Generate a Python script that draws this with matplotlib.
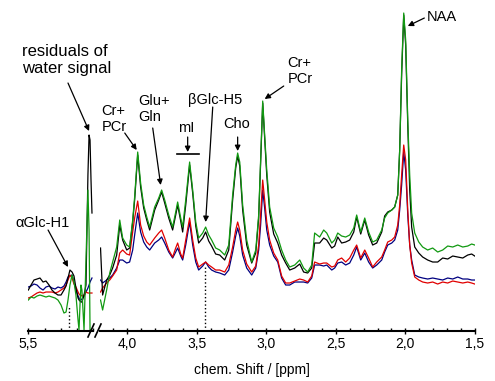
import numpy as np
import matplotlib.pyplot as plt
from matplotlib.lines import Line2D
from matplotlib.ticker import MultipleLocator, FuncFormatter

plt.rcParams['font.family'] = ['Liberation Sans', 'DejaVu Sans']

# left part of the spectrum, 5.5 - 5.1 ppm (intensity in arbitrary units)
ppm_left = [5.500, 5.483, 5.465, 5.446, 5.428, 5.409, 5.391, 5.372, 5.354, 5.335,
            5.317, 5.298, 5.280, 5.267, 5.255, 5.243, 5.230, 5.218, 5.206, 5.193,
            5.187, 5.181, 5.175, 5.169, 5.156, 5.144, 5.132, 5.125, 5.119, 5.113, 5.107]
green_left = [31, 34, 33, 35, 36, 35, 34, 35, 34, 33, 31, 26, 18, 19, 31, 46, 56, 49, 36, 11,
              1, 26, 46, 41, 1, 71, 141, 101, 1, 1, np.nan]
black_left = [41, 46, 51, 52, 53, 49, 50, 46, 41, 38, 36, 36, 41, 45, 53, 61, 59, 55, 43, 33,
              31, 30, 29, 29, 36, 46, 156, 196, 191, 151, 118]
red_left = [33, 34, 36, 38, 39, 38, 39, 39, 39, 38, 39, 41, 43, 46, 51, 56, 53, 47, 44, 39,
            37, 36, 36, 35, 36, 39, 38, 38, 38, 38, 38]
blue_left = [44, 45, 47, 46, 43, 41, 44, 45, 43, 42, 44, 43, 45, 49, 54, 55, 56, 49, 41, 35,
             33, 31, 31, 32, 35, 39, 43, 46, 49, 51, 53]

# right part of the spectrum, 4.2 - 1.5 ppm
ppm_right = [4.190, 4.175, 4.146, 4.124, 4.103, 4.074, 4.052, 4.031, 4.002, 3.981,
             3.959, 3.945, 3.923, 3.902, 3.880, 3.858, 3.837, 3.801, 3.772, 3.751,
             3.729, 3.700, 3.672, 3.650, 3.636, 3.614, 3.600, 3.578, 3.550, 3.528,
             3.506, 3.485, 3.456, 3.435, 3.413, 3.392, 3.363, 3.334, 3.298, 3.269,
             3.241, 3.219, 3.205, 3.190, 3.169, 3.140, 3.104, 3.075, 3.054, 3.040,
             3.025, 3.011, 2.996, 2.975, 2.946, 2.917, 2.889, 2.860, 2.831, 2.795,
             2.759, 2.731, 2.702, 2.673, 2.652, 2.616, 2.587, 2.565, 2.529, 2.508,
             2.486, 2.458, 2.429, 2.400, 2.371, 2.350, 2.321, 2.292, 2.264, 2.235,
             2.206, 2.170, 2.149, 2.127, 2.098, 2.077, 2.055, 2.041, 2.027, 2.012,
             1.998, 1.983, 1.969, 1.955, 1.933, 1.904, 1.876, 1.840, 1.804, 1.768,
             1.732, 1.696, 1.660, 1.624, 1.588, 1.552, 1.524, 1.502]
green_right = [31, 21, 41, 58, 69, 84, 111, 93, 86, 84,
               111, 134, 179, 148, 126, 114, 104, 124, 133, 141,
               131, 116, 104, 119, 129, 113, 104, 131, 169, 141,
               109, 93, 98, 104, 96, 91, 83, 81, 76, 86,
               136, 166, 178, 169, 126, 91, 69, 81, 116, 171,
               230, 196, 161, 124, 103, 94, 81, 71, 64, 66,
               71, 63, 59, 66, 98, 94, 101, 98, 88, 91,
               98, 95, 94, 96, 103, 116, 99, 113, 99, 89,
               91, 101, 113, 118, 121, 124, 136, 181, 261, 318,
               291, 211, 156, 118, 98, 89, 84, 81, 83, 79,
               81, 85, 84, 86, 84, 85, 87, 86]
black_right = [83, 36, 51, 56, 63, 76, 106, 91, 81, 83,
               109, 131, 176, 144, 123, 111, 101, 121, 131, 139,
               128, 113, 101, 116, 126, 110, 99, 126, 166, 138,
               105, 88, 93, 99, 90, 85, 77, 76, 71, 81,
               131, 163, 175, 165, 121, 86, 68, 78, 113, 168,
               228, 193, 156, 119, 97, 88, 76, 68, 61, 63,
               67, 59, 58, 63, 88, 88, 93, 91, 83, 85,
               94, 88, 89, 91, 99, 114, 97, 111, 96, 86,
               88, 99, 115, 119, 121, 124, 136, 181, 256, 316,
               286, 206, 141, 104, 84, 78, 74, 71, 69, 69,
               73, 72, 75, 74, 73, 76, 77, 75]
red_right = [39, 43, 48, 51, 55, 61, 78, 81, 77, 76,
             99, 113, 130, 106, 95, 89, 86, 93, 98, 101,
             93, 81, 74, 83, 88, 77, 73, 91, 113, 91,
             73, 64, 67, 69, 66, 64, 61, 61, 59, 66,
             84, 101, 109, 101, 81, 67, 59, 65, 86, 116,
             151, 131, 109, 91, 78, 71, 55, 48, 48, 50,
             52, 51, 49, 55, 69, 67, 68, 68, 64, 65,
             71, 73, 69, 73, 81, 86, 73, 81, 73, 64,
             69, 74, 81, 89, 91, 94, 106, 126, 156, 186,
             171, 121, 86, 68, 54, 51, 49, 48, 49, 47,
             49, 48, 50, 49, 48, 49, 48, 47]
blue_right = [51, 48, 51, 53, 56, 63, 71, 71, 68, 69,
              81, 96, 118, 99, 89, 84, 81, 88, 91, 94,
              88, 79, 73, 79, 83, 75, 71, 86, 109, 86,
              69, 61, 65, 69, 64, 61, 59, 58, 56, 61,
              79, 95, 103, 95, 76, 63, 56, 63, 81, 106,
              141, 123, 101, 86, 75, 69, 53, 46, 46, 49,
              49, 49, 48, 53, 66, 66, 65, 66, 61, 63,
              68, 69, 66, 68, 76, 84, 71, 78, 69, 63,
              66, 71, 79, 86, 88, 91, 101, 121, 146, 179,
              161, 116, 86, 71, 56, 54, 53, 52, 53, 52,
              51, 53, 52, 54, 52, 52, 51, 51]

ticks_left = [5.5]
ticks_right = [4.0, 3.5, 3.0, 2.5, 2.0, 1.5]

fig = plt.figure(figsize=(4.95, 3.81), dpi=100)
axl = fig.add_axes([0.0572, 0.1312, 0.1309, 0.8556])
axr = fig.add_axes([0.2014, 0.1312, 0.7582, 0.8556])

comma = FuncFormatter(lambda v, p: ('%.1f' % v).replace('.', ','))

parts = [(axl, ppm_left, blue_left, red_left, black_left, green_left, (5.5, 5.1), ticks_left),
         (axr, ppm_right, blue_right, red_right, black_right, green_right, (4.196, 1.5), ticks_right)]
for ax, ppm, b, r, k, g, lim, ticks in parts:
    ax.plot(ppm, b, color='#000080', lw=0.9)
    ax.plot(ppm, r, color='#e00000', lw=0.9)
    ax.plot(ppm, k, color='black', lw=0.9)
    ax.plot(ppm, g, color='#119911', lw=0.9)
    ax.set_xlim(lim)
    ax.set_ylim(0, 326)
    ax.set_xticks(ticks)
    ax.xaxis.set_minor_locator(MultipleLocator(0.1))
    ax.xaxis.set_major_formatter(comma)
    ax.tick_params(axis='x', which='major', direction='inout', length=5, width=1,
                   labelsize=10, pad=2)
    ax.tick_params(axis='x', which='minor', direction='in', length=2.5, width=1)
    ax.set_yticks([])
    for s in ['top', 'left', 'right']:
        ax.spines[s].set_visible(False)
    ax.spines['bottom'].set_linewidth(1.5)
    ax.patch.set_visible(False)

arr = dict(arrowstyle='-|>', color='black', lw=0.9, mutation_scale=8, shrinkA=0, shrinkB=0)
fs = 10.5

# left part labels
axl.text(5.539, 271, 'residuals of\nwater signal', fontsize=12, ha='left', va='center',
         linespacing=1.2)
axl.annotate('', xy=(5.125, 200), xytext=(5.255, 248), arrowprops=arr, annotation_clip=False)
axl.text(5.582, 108, 'αGlc-H1', fontsize=fs, ha='left', va='center')
axl.annotate('', xy=(5.255, 64), xytext=(5.378, 101), arrowprops=arr, annotation_clip=False)
axl.plot([5.246, 5.246], [0, 24], ls=':', color='black', lw=1)

# right part labels
axr.text(4.182, 212, 'Cr+\nPCr', fontsize=fs, ha='left', va='center', linespacing=1.25)
axr.annotate('', xy=(3.930, 181), xytext=(4.016, 198), arrowprops=arr, annotation_clip=False)
axr.text(3.916, 222, 'Glu+\nGln', fontsize=fs, ha='left', va='center', linespacing=1.25)
axr.annotate('', xy=(3.758, 146), xytext=(3.815, 203), arrowprops=arr)
axr.text(3.636, 203, 'mI', fontsize=fs, ha='left', va='center')
axr.annotate('', xy=(3.564, 179), xytext=(3.564, 194), arrowprops=arr)
axr.plot([3.643, 3.485], [177, 177], color='black', lw=1.2)
axr.text(3.564, 231, 'βGlc-H5', fontsize=fs, ha='left', va='center')
axr.annotate('', xy=(3.435, 109), xytext=(3.384, 224), arrowprops=arr)
axr.plot([3.442, 3.442], [0, 66], ls=':', color='black', lw=1)
axr.text(3.211, 207, 'Cho', fontsize=fs, ha='center', va='center')
axr.annotate('', xy=(3.205, 180), xytext=(3.205, 194), arrowprops=arr)
axr.text(2.846, 260, 'Cr+\nPCr', fontsize=fs, ha='left', va='center', linespacing=1.25)
axr.annotate('', xy=(3.011, 232), xytext=(2.874, 245), arrowprops=arr)
axr.text(1.847, 314, 'NAA', fontsize=fs, ha='left', va='center')
axr.annotate('', xy=(1.983, 305), xytext=(1.864, 313), arrowprops=arr)

# axis break marks
W, H = 495.0, 381.0
for x0 in [88, 95]:
    fig.add_artist(Line2D([x0 / W, (x0 + 6) / W], [1 - 337 / H, 1 - 324 / H],
                          transform=fig.transFigure, color='black', lw=1.2))

fig.text(252 / W, 1 - 370 / H, 'chem. Shift / [ppm]', fontsize=10, ha='center', va='center')

fig.savefig('out.png', dpi=100)
